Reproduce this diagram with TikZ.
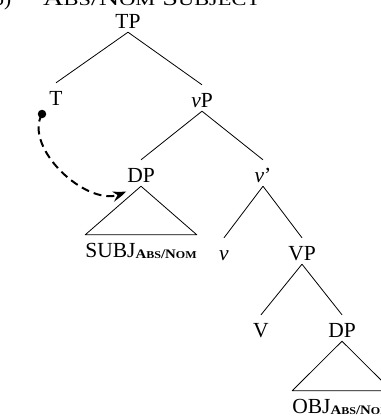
\documentclass[tikz,border=0pt]{standalone}
\usepackage{fontspec}
\setmainfont{Liberation Serif}
\usetikzlibrary{arrows.meta,bending}
\newcommand\casesub{\raisebox{-1.5pt}{\resizebox{61pt}{\height}{\bfseries\fontsize{13}{12}\selectfont A{\fontsize{10.5}{10}\selectfont BS}/N{\fontsize{10.5}{10}\selectfont OM}}}}
\newcommand\smallc[1]{{\fontsize{17}{17}\selectfont #1}}
\begin{document}
\begin{tikzpicture}[x=1pt,y=-1pt,
  lbl/.style={anchor=base,inner sep=0pt,text height=22pt,text depth=4pt,font=\fontsize{21.5}{24}\selectfont},
  edge/.style={line width=0.8pt,line join=round},
  movement/.style={line width=2pt,dash pattern=on 8pt off 5pt,-{Stealth[length=14pt,width=10pt,bend]}},
  titletext/.style={anchor=base west,inner sep=0pt,font=\fontsize{21.5}{24}\selectfont}]
\useasboundingbox (0,0) rectangle (381,416);
\clip (0,0) rectangle (381,416);
% title (cut off at top)
\node[titletext] (num) at (-14,5) {(5)};
\node[titletext] (ttl) at (43,5) {\resizebox{217pt}{\height}{A\smallc{BS}/N\smallc{OM} S\smallc{UBJECT}}};
% tree nodes
\node[lbl] (tp) at (128,28) {TP};
\node[lbl] (t) at (56,105) {T};
\node[lbl] (vp) at (202,107) {\textit{v}P};
\node[lbl] (dps) at (141,182) {DP};
\node[lbl] (vbar) at (263,182) {\textit{v}’};
\node[lbl] (subj) at (141,257) {SUBJ\casesub};
\node[lbl] (vhead) at (224,260) {\textit{v}};
\node[lbl] (vp2) at (302,260) {VP};
\node[lbl] (vv) at (261,337) {V};
\node[lbl] (dpo) at (342,337) {DP};
\node[lbl] (obj) at (342,413) {OBJ\casesub};
% branches
\draw[edge] (tp.south) -- (t.north);
\draw[edge] (tp.south) -- (vp.north);
\draw[edge] (vp.south) -- (dps.north);
\draw[edge] (vp.south) -- (vbar.north);
\draw[edge] (vbar.south) -- (vhead.north);
\draw[edge] (vbar.south) -- (vp2.north);
\draw[edge] (vp2.south) -- (vv.north);
\draw[edge] (vp2.south) -- (dpo.north);
% roofs
\draw[edge] (dps.south) -- (subj.north west) -- (subj.north east) -- cycle;
\draw[edge] (dpo.south) -- (obj.north west) -- (obj.north east) -- cycle;
% movement arrow
\node[circle,fill,inner sep=0pt,minimum size=8.5pt] (tdot) at (42,114) {};
\coordinate (arrtip) at (126,191);
\draw[movement] (tdot.center) .. controls (22,150) and (95,215) .. (arrtip);
\end{tikzpicture}
\end{document}
